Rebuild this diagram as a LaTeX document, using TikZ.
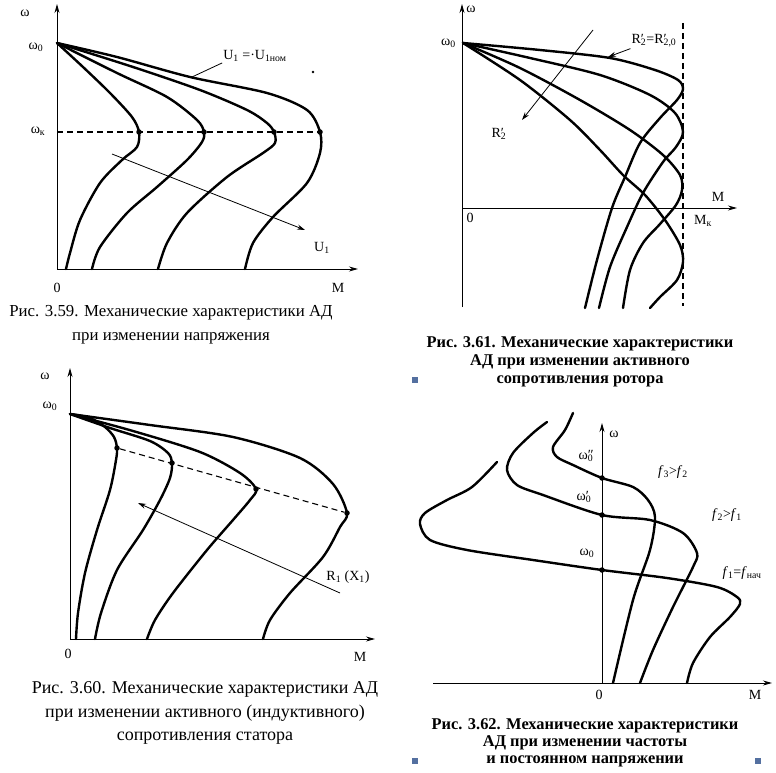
\documentclass[tikz,border=0pt]{standalone}
\usepackage{fontspec}
\setmainfont{Liberation Serif}
\usetikzlibrary{arrows.meta}

\definecolor{bulletblue}{RGB}{84,112,160}
\newcommand{\prm}[2]{#1\rlap{′}\textsubscript{#2}}

\begin{document}
\begin{tikzpicture}[x=1pt, y=-1pt,
    curve/.style={line width=2.4pt, line cap=round, line join=round},
    axis/.style={line width=0.9pt, -{Stealth[length=9pt, width=5pt]}},
    pointer/.style={line width=0.8pt, -{Stealth[length=8pt, width=5pt]}},
    guide/.style={line width=1.1pt, dash pattern=on 6pt off 4pt},
    dot/.style={circle, fill=black, inner sep=0pt, minimum size=5.5pt},
    lbl/.style={font=\fontsize{14}{16}\selectfont, inner sep=1pt},
    captext/.style={align=center, inner sep=0pt},
    bullet/.style={fill=bulletblue, minimum size=6pt, inner sep=0pt}]

  \useasboundingbox (0,0) rectangle (776,773);

  % ---------- Fig. 3.59 ----------
  \coordinate (o1) at (57,269);
  \coordinate (y1) at (57,4);
  \coordinate (x1) at (358,269);
  \coordinate (w01) at (57,43);
  \coordinate (wk1) at (57,132);
  \draw[axis] (o1) -- (y1);
  \draw[axis] (o1) -- (x1);

  \node[lbl] (om1) at (25,13) {ω};
  \node[lbl] (om01) at (36,47) {ω\textsubscript{0}};
  \node[lbl] (omk1) at (38,131) {ω\textsubscript{к}};
  \node[lbl] (zero1) at (57,288) {0};
  \node[lbl] (m1) at (338,288) {M};

  \foreach \n/\x in {1/139, 2/204, 3/274, 4/320} {
    \node[dot] (k1\n) at (\x,132) {};
  }
  \draw[guide] (wk1) -- (k14);

  \draw[curve] plot[smooth] coordinates {(w01) (83,67) (110,93) (132,117) (k11)
    (137,147) (122,160) (100,183) (80,220) (70,253) (66,269)};
  \draw[curve] plot[smooth] coordinates {(w01) (117,73) (167,97) (197,120) (k12)
    (202,142) (187,160) (157,187) (127,213) (100,247) (92,269)};
  \draw[curve] plot[smooth] coordinates {(w01) (133,67) (200,90) (247,110) (267,123) (k13)
    (275,143) (263,153) (227,177) (187,213) (167,243) (158,269)};
  \draw[curve] plot[smooth] coordinates {(w01) (117,57) (190,77) (267,93) (307,110) (k14)
    (320,153) (307,183) (273,217) (253,243) (245,269)};

  \node[lbl] (unom) at (255,56) {U\textsubscript{1} =·U\textsubscript{1ном}};
  \coordinate (unomend) at (192,77);
  \draw[line width=0.8pt] (unom.south west) -- (unomend);
  \fill (313,72) circle (1.3pt);

  \coordinate (ua) at (112,154);
  \coordinate (ub) at (305,230);
  \draw[pointer] (ua) -- (ub);
  \node[lbl] (u1) at (322,248) {U\textsubscript{1}};

  \node[captext, font=\fontsize{16.8}{24}\selectfont] (cap1) at (171,325)
    {Рис. 3.59. Механические характеристики АД\\при изменении напряжения};

  % ---------- Fig. 3.61 ----------
  \coordinate (o2) at (462,208);
  \coordinate (y2) at (462,4);
  \coordinate (yb2) at (462,307);
  \coordinate (x2) at (737,208);
  \coordinate (w02) at (463,43);
  \draw[axis] (yb2) -- (y2);
  \draw[axis] (o2) -- (x2);
  \coordinate (mkt) at (683,23);
  \coordinate (mkb) at (683,306);
  \draw[guide] (mkt) -- (mkb);

  \node[lbl] (om2) at (471,9) {ω};
  \node[lbl, anchor=east] (om02) at (457,43) {ω\textsubscript{0}};
  \node[lbl] (zero2) at (470,218) {0};
  \node[lbl] (m2) at (718,197) {M};
  \node[lbl] (mk2) at (703,221) {M\textsubscript{к}};

  \draw[curve] plot[smooth] coordinates {(w02) (540,50) (610,58) (655,70) (678,80) (683,89)
    (677,100) (660,118) (640,143) (625,177) (612,208) (597,260) (585,308)};
  \draw[curve] plot[smooth] coordinates {(w02) (530,58) (600,75) (650,95) (675,113) (683,132)
    (676,147) (663,162) (643,193) (627,227) (610,267) (599,308)};
  \draw[curve] plot[smooth] coordinates {(w02) (520,68) (580,100) (630,130) (663,155) (680,175)
    (682,190) (676,205) (660,224) (643,243) (630,270) (623,308)};
  \draw[curve] plot[smooth] coordinates {(w02) (520,80) (570,120) (600,150) (623,175) (645,195)
    (665,220) (680,245) (683,262) (677,280) (660,297) (650,308)};

  \node[lbl] (r20) at (654,41) {\prm{R}{2}=\prm{R}{2,0}};
  \coordinate (r20end) at (608,57);
  \draw[pointer] (r20.south west) -- (r20end);

  \coordinate (ra) at (593,30);
  \coordinate (rb) at (522,120);
  \draw[pointer] (ra) -- (rb);
  \node[lbl] (r2) at (499,134) {\prm{R}{2}};

  \node[captext, font=\bfseries\fontsize{16.4}{18}\selectfont] (cap2) at (580,362)
    {Рис. 3.61. Механические характеристики\\АД при изменении активного\\сопротивления ротора};
  \node[bullet] (b1) at (415,380) {};

  % ---------- Fig. 3.60 ----------
  \coordinate (o3) at (70,639);
  \coordinate (y3) at (70,368);
  \coordinate (x3) at (375,639);
  \coordinate (w03) at (70,414);
  \draw[axis] (o3) -- (y3);
  \draw[axis] (o3) -- (x3);

  \node[lbl] (om3) at (45,376) {ω};
  \node[lbl] (om03) at (50,406) {ω\textsubscript{0}};
  \node[lbl] (zero3) at (68,654) {0};
  \node[lbl] (m3) at (360,657) {M};

  \foreach \n/\x/\y in {1/117/448, 2/172/463, 3/256/489, 4/347/513} {
    \node[dot] (k3\n) at (\x,\y) {};
  }
  \draw[guide] (k31) -- (k34);

  \draw[curve] plot[smooth] coordinates {(w03) (90,418) (105,427) (114,437) (k31)
    (116,460) (110,490) (97,530) (85,573) (78,613) (76,639)};
  \draw[curve] plot[smooth] coordinates {(w03) (110,428) (150,441) (168,453) (k32)
    (170,478) (160,500) (143,530) (117,570) (101,613) (95,639)};
  \draw[curve] plot[smooth] coordinates {(w03) (133,431) (200,452) (240,473) (k33)
    (250,500) (233,520) (207,550) (173,593) (155,620) (147,639)};
  \draw[curve] plot[smooth] coordinates {(w03) (150,425) (233,437) (300,458) (333,484) (k34)
    (340,527) (323,557) (290,593) (270,620) (263,639)};

  \coordinate (xa) at (340,593);
  \coordinate (xb) at (138,503);
  \draw[pointer] (xa) -- (xb);
  \node[lbl] (r1) at (348,577) {R\textsubscript{1} (X\textsubscript{1})};

  \node[captext, font=\fontsize{18}{23.5}\selectfont] (cap3) at (205,713)
    {Рис. 3.60. Механические характеристики АД\\при изменении активного (индуктивного)\\сопротивления статора};

  % ---------- Fig. 3.62 ----------
  \coordinate (o4) at (602,683);
  \coordinate (y4) at (602,423);
  \coordinate (xl4) at (433,683);
  \coordinate (x4) at (772,683);
  \draw[axis] (o4) -- (y4);
  \draw[axis] (xl4) -- (x4);

  \node[lbl] (om4) at (614,434) {ω};
  \node[lbl] (om04b) at (586,456) {ω\rlap{″}\textsubscript{0}};
  \node[lbl] (om04a) at (584,497) {ω\rlap{′}\textsubscript{0}};
  \node[lbl] (om04) at (587,553) {ω\textsubscript{0}};
  \node[lbl] (zero4) at (599,695) {0};
  \node[lbl] (m4) at (755,695) {M};

  \node[dot] (f3dot) at (602,478) {};
  \node[dot] (f2dot) at (602,515) {};
  \node[dot] (f1dot) at (602,570) {};

  \draw[curve] plot[smooth] coordinates {(497,462) (472,487) (447,500) (425,513) (420,524)
    (430,540) (467,550) (533,560) (f1dot) (667,578) (717,587) (737,597) (740,604)
    (730,617) (710,637) (693,663) (687,683)};
  \draw[curve] plot[smooth] coordinates {(547,422) (533,433) (513,453) (507,470) (517,485)
    (543,495) (f2dot) (650,520) (683,533) (697,553) (693,567) (673,607) (653,650) (640,683)};
  \draw[curve] plot[smooth] coordinates {(573,413) (565,430) (553,447) (557,457) (573,465)
    (f3dot) (633,487) (648,500) (655,517) (650,550) (633,600) (613,683)};

  \node[lbl] (f32) at (673,472) {\textit{f}\textsubscript{3}>\textit{f}\textsubscript{2}};
  \node[lbl] (f21) at (727,515) {\textit{f}\textsubscript{2}>\textit{f}\textsubscript{1}};
  \node[lbl] (f1n) at (742,573) {\textit{f}\textsubscript{1}=\textit{f}\textsubscript{нач}};

  \node[captext, font=\bfseries\fontsize{16.4}{17}\selectfont] (cap4) at (585,743)
    {Рис. 3.62. Механические характеристики\\АД при изменении частоты\\и постоянном напряжении};
  \node[bullet] (b2) at (415,761) {};
  \node[bullet] (b3) at (758,761) {};
\end{tikzpicture}
\end{document}
